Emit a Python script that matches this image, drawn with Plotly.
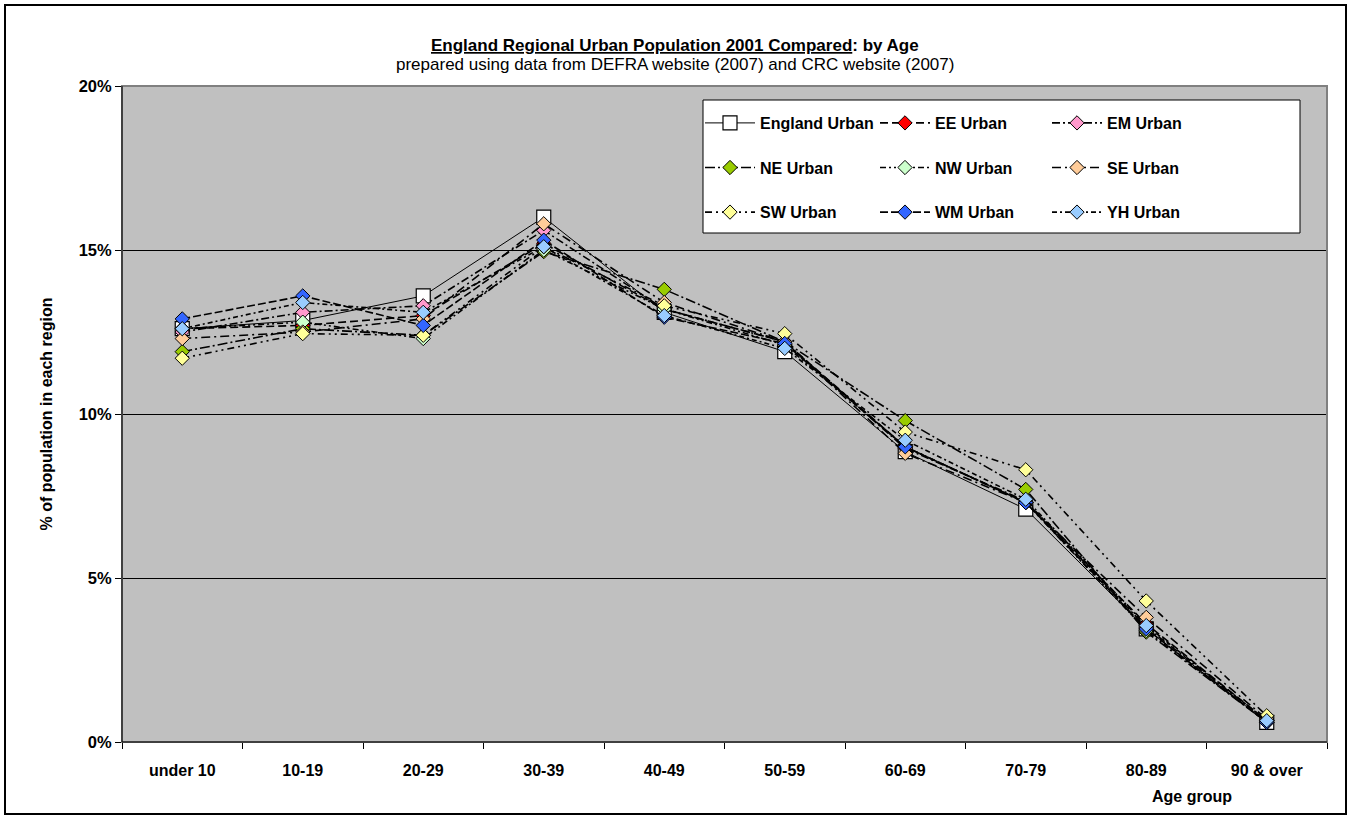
import plotly.graph_objects as go

categories = ["under 10", "10-19", "20-29", "30-39", "40-49", "50-59", "60-69", "70-79", "80-89", "90 & over"]

england = [12.6, 12.85, 13.6, 16.0, 13.1, 11.9, 8.85, 7.1, 3.45, 0.6]
ee = [12.6, 12.7, 13.0, 15.2, 13.2, 12.2, 9.0, 7.3, 3.6, 0.65]
em = [12.5, 13.1, 13.3, 15.6, 13.2, 12.2, 8.95, 7.35, 3.5, 0.65]
ne = [11.9, 12.6, 12.4, 14.95, 13.8, 12.2, 9.8, 7.7, 3.35, 0.6]
nw = [12.6, 12.8, 12.3, 15.0, 13.2, 12.1, 9.0, 7.3, 3.4, 0.6]
se = [12.3, 12.5, 12.9, 15.8, 13.4, 12.2, 8.8, 7.3, 3.8, 0.7]
sw = [11.7, 12.45, 12.4, 15.1, 13.3, 12.45, 9.45, 8.3, 4.3, 0.8]
wm = [12.9, 13.6, 12.7, 15.3, 12.95, 12.15, 9.0, 7.3, 3.45, 0.6]
yh = [12.6, 13.4, 13.1, 15.1, 13.0, 12.0, 9.2, 7.4, 3.55, 0.65]

y_ticks = [0, 5, 10, 15, 20]
y_tick_labels = ["0%", "5%", "10%", "15%", "20%"]

FONT = "Arial, Liberation Sans, sans-serif"

# name, values, marker colour, dash pattern, legend column
series = [
    ("EE Urban", ee, "#FF0000", "8px,4px", "legend2"),
    ("EM Urban", em, "#FF99CC", "8px,3px,2px,3px", "legend3"),
    ("NE Urban", ne, "#99CC00", "10px,3px,2px,3px", "legend"),
    ("NW Urban", nw, "#CCFFCC", "6px,3px,2px,3px,2px,3px", "legend2"),
    ("SE Urban", se, "#FFCC99", "9px,4px,2px,4px", "legend3"),
    ("SW Urban", sw, "#FFFF99", "7px,4px,2px,4px,2px,4px", "legend"),
    ("WM Urban", wm, "#3366FF", "8px,3px", "legend2"),
    ("YH Urban", yh, "#99CCFF", "5px,3px,2px,3px", "legend3"),
]

# a trailing empty line gives each legend row the taller spacing of the original
PAD = "<br> "

fig = go.Figure()
fig.add_trace(go.Scatter(
    x=categories, y=england, name="England Urban" + PAD, mode="lines+markers",
    line=dict(color="black", width=1), legend="legend",
    marker=dict(symbol="square", size=14, color="white", line=dict(color="black", width=1.2)),
))
for name, vals, col, dash, leg in series:
    fig.add_trace(go.Scatter(
        x=categories, y=vals, name=name + PAD, mode="lines+markers", legend=leg,
        line=dict(color="black", width=1.6, dash=dash),
        marker=dict(symbol="diamond", size=11, color=col, line=dict(color="black", width=1)),
    ))

L, R, T, B = 122, 25, 86, 78
W, H = 1352, 820
pw, ph = W - L - R, H - T - B

def px_x(x):
    return (x - L) / pw

def px_y(y):
    return (H - B - y) / ph

legend_font = dict(family=FONT, size=16, color="black", weight="bold")

def leg(xpx):
    return dict(
        orientation="v", xref="paper", yref="paper",
        x=px_x(xpx), y=px_y(106), xanchor="left", yanchor="top",
        bgcolor="rgba(0,0,0,0)", borderwidth=0, valign="top",
        font=legend_font, itemwidth=50, traceorder="normal",
    )

fig.update_layout(
    width=W, height=H,
    margin=dict(l=L, r=R, t=T, b=B),
    paper_bgcolor="white",
    plot_bgcolor="#C0C0C0",
    font=dict(family=FONT, size=14, color="black"),
    showlegend=True,
    legend=leg(700),
    legend2=leg(875),
    legend3=leg(1047),
    xaxis=dict(
        type="category", range=[-0.5, 9.5],
        showline=True, linecolor="black", linewidth=1, mirror=False,
        ticks="outside", ticklen=6, tickcolor="black", tickson="boundaries",
        showgrid=False, zeroline=False, ticklabelstandoff=14,
        tickfont=dict(family=FONT, size=16, color="black", weight="bold"),
    ),
    yaxis=dict(
        range=[0, 20], tickvals=y_ticks, ticktext=y_tick_labels,
        showline=True, linecolor="black", linewidth=1,
        ticks="outside", ticklen=6, tickcolor="black",
        showgrid=True, gridcolor="black", gridwidth=1, zeroline=False,
        tickfont=dict(family=FONT, size=16.5, color="black", weight="bold"),
        title=dict(text="% of population in each region", standoff=22,
                   font=dict(family=FONT, size=16, color="black", weight="bold")),
    ),
    shapes=[
        dict(type="rect", xref="paper", yref="paper", x0=0, x1=1, y0=0, y1=1,
             line=dict(color="#808080", width=2), fillcolor="rgba(0,0,0,0)", layer="above"),
        dict(type="line", xref="paper", yref="paper", x0=0, x1=0, y0=0, y1=1,
             line=dict(color="black", width=1), layer="above"),
        dict(type="line", xref="paper", yref="paper", x0=0, x1=1, y0=0, y1=0,
             line=dict(color="black", width=1), layer="above"),
        # legend box
        dict(type="rect", xref="paper", yref="paper",
             x0=px_x(703), x1=px_x(1300), y0=px_y(233), y1=px_y(100),
             line=dict(color="black", width=1), fillcolor="white", layer="above"),
        # outer chart frame
        dict(type="rect", xref="paper", yref="paper",
             x0=px_x(5), x1=px_x(1346), y0=px_y(814), y1=px_y(5),
             line=dict(color="black", width=2), fillcolor="rgba(0,0,0,0)"),
    ],
    annotations=[
        dict(text="<u>England Regional Urban Population 2001 Compared</u>: by Age",
             xref="paper", yref="paper", x=px_x(675), y=px_y(45), showarrow=False,
             xanchor="center", yanchor="middle",
             font=dict(family=FONT, size=17, color="black", weight="bold")),
        dict(text="prepared using data from DEFRA website (2007) and CRC website (2007)",
             xref="paper", yref="paper", x=px_x(675), y=px_y(64), showarrow=False,
             xanchor="center", yanchor="middle",
             font=dict(family=FONT, size=17, color="black")),
        dict(text="Age group", xref="paper", yref="paper", x=px_x(1192), y=px_y(796),
             showarrow=False, xanchor="center", yanchor="middle",
             font=dict(family=FONT, size=16, color="black", weight="bold")),
    ],
)

fig.write_html("out.html")
